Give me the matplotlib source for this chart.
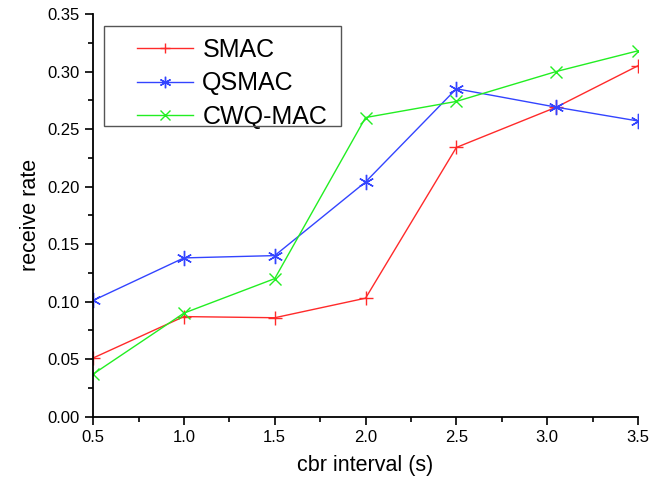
import matplotlib
matplotlib.use("Agg")
import matplotlib.pyplot as plt
from matplotlib.ticker import MultipleLocator, FormatStrFormatter
from matplotlib.patches import Rectangle

plt.rcParams['font.family'] = ['Liberation Sans', 'DejaVu Sans']

x_smac = [0.5, 1.0, 1.5, 2.0, 2.5, 3.05, 3.5]
smac = [0.051, 0.087, 0.086, 0.103, 0.234, 0.269, 0.305]
x_qsmac = [0.5, 1.0, 1.5, 2.0, 2.5, 3.05, 3.5]
qsmac = [0.101, 0.138, 0.140, 0.204, 0.285, 0.269, 0.257]
x_cwq = [0.5, 1.0, 1.5, 2.0, 2.5, 3.05, 3.5]
cwq = [0.037, 0.090, 0.120, 0.260, 0.274, 0.300, 0.318]

fig = plt.figure(figsize=(6.65, 4.82), dpi=100)
ax = fig.add_axes([0.14, 0.1355, 0.8194, 0.8355])

ax.plot(x_smac, smac, color='#ff2a2a', marker='+', markersize=10, lw=1, mew=1, label='SMAC')
ax.plot(x_qsmac, qsmac, color='#3344ff', marker=(6, 2, 0), markersize=11, lw=1, mew=1, label='QSMAC')
ax.plot(x_cwq, cwq, color='#22ee22', marker='x', markersize=9, lw=1, mew=1, label='CWQ-MAC')

ax.set_xlim(0.5, 3.5)
ax.set_ylim(0, 0.35)
ax.xaxis.set_major_locator(MultipleLocator(0.5))
ax.xaxis.set_minor_locator(MultipleLocator(0.25))
ax.yaxis.set_major_locator(MultipleLocator(0.05))
ax.yaxis.set_minor_locator(MultipleLocator(0.025))
ax.xaxis.set_major_formatter(FormatStrFormatter('%.1f'))
ax.yaxis.set_major_formatter(FormatStrFormatter('%.2f'))
ax.tick_params(which='major', direction='out', length=6, width=1.2, labelsize=12)
ax.tick_params(which='minor', direction='out', length=3.5, width=1.2)
for s in ['top', 'right']:
    ax.spines[s].set_visible(False)
for s in ['left', 'bottom']:
    ax.spines[s].set_linewidth(1.3)

ax.set_xlabel('cbr interval (s)', fontsize=15.5, labelpad=7)
ax.set_ylabel('receive rate', fontsize=15.5, labelpad=5)

leg = ax.legend(loc='upper left', bbox_to_anchor=(0.0807, 0.940), borderaxespad=0,
                fontsize=18, frameon=False, handlelength=2.25,
                handletextpad=0.36, labelspacing=0.37, borderpad=0, markerscale=0.75)

fig.patches.append(Rectangle((104 / 665, 1 - 126 / 482), 237 / 665, 100 / 482,
                             transform=fig.transFigure, fill=False,
                             edgecolor='#555555', linewidth=1.0))

fig.savefig('out.png', dpi=100)
